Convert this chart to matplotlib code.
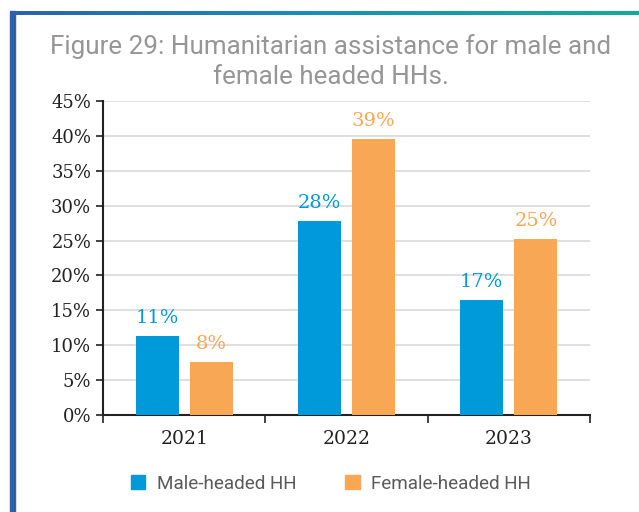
import matplotlib.pyplot as plt
import numpy as np
from matplotlib.patches import Rectangle
from matplotlib.colors import LinearSegmentedColormap

years = ["2021", "2022", "2023"]
male = [11.3, 27.8, 16.5]
female = [7.6, 39.5, 25.2]
male_labels = ["11%", "28%", "17%"]
female_labels = ["8%", "39%", "25%"]

blue = "#0099d9"
orange = "#f8a755"

fig = plt.figure(figsize=(6.39, 5.12), dpi=100)

# frame decoration: gradient top bar and blue left bar
grad_ax = fig.add_axes([10 / 639, 1 - 15 / 512, 1 - 10 / 639, 4 / 512])
grad = np.linspace(0, 1, 256).reshape(1, -1)
cmap = LinearSegmentedColormap.from_list("bar", ["#2a62ad", "#1a8fb8", "#14aa9c"])
grad_ax.imshow(grad, aspect="auto", cmap=cmap)
grad_ax.axis("off")
fig.patches.append(Rectangle((10 / 639, 0), 5 / 639, 1 - 11 / 512,
                             transform=fig.transFigure, color="#2a62ad", zorder=5))

ax = fig.add_axes([103 / 639, 97 / 512, 487 / 639, 314 / 512])
x = np.arange(len(years))
w = 0.265
off = 0.167
ax.bar(x - off, male, w, color=blue, zorder=3)
ax.bar(x + off, female, w, color=orange, zorder=3)

for i in range(len(years)):
    ax.text(x[i] - off, male[i] + 1.3, male_labels[i], ha="center", va="bottom",
            color=blue, fontsize=14, family="DejaVu Serif")
    ax.text(x[i] + off, female[i] + 1.3, female_labels[i], ha="center", va="bottom",
            color=orange, fontsize=14, family="DejaVu Serif")

ax.set_xlim(-0.5, 2.5)
ax.set_ylim(0, 45)
ax.set_yticks(range(0, 50, 5))
ax.set_yticklabels([f"{v}%" for v in range(0, 50, 5)], family="DejaVu Serif", fontsize=13)
ax.set_xticks(x)
ax.set_xticklabels(years, family="DejaVu Serif", fontsize=13.5)
ax.set_xticks([-0.5, 0.5, 1.5, 2.5], minor=True)
ax.tick_params(axis="x", which="major", length=0, pad=11, colors="#222222")
ax.tick_params(axis="x", which="minor", length=6, width=1.2, color="#222222")
ax.tick_params(axis="y", length=5, width=1.2, color="#222222", labelcolor="#222222")
ax.grid(axis="y", color="#d9d9d9", linewidth=1.2, zorder=0)
for s in ["top", "right"]:
    ax.spines[s].set_visible(False)
for s in ["left", "bottom"]:
    ax.spines[s].set_color("#222222")
    ax.spines[s].set_linewidth(1.5)

fig.text(0.518, 0.880, "Figure 29: Humanitarian assistance for male and\nfemale headed HHs.",
         ha="center", va="center", fontsize=18.7, color="#969696", family="Roboto",
         linespacing=1.3)

handles = [Rectangle((0, 0), 1, 1, color=blue), Rectangle((0, 0), 1, 1, color=orange)]
fig.legend(handles, ["Male-headed HH", "Female-headed HH"], loc="center",
           bbox_to_anchor=(0.518, 0.055), ncol=2, frameon=False, handlelength=0.75,
           handleheight=0.75, columnspacing=2.6, handletextpad=0.6,
           prop={"family": "Roboto", "size": 13.6}, labelcolor="#5a5a5a")

fig.savefig("out.png", dpi=100)
